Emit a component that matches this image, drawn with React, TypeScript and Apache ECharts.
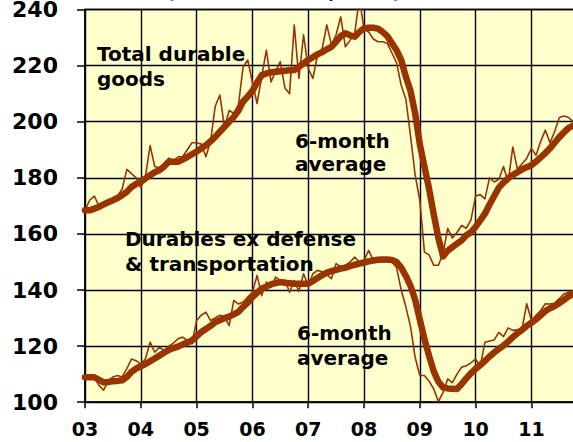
import React, { useEffect, useRef } from "react";
import * as echarts from "echarts";

// Monthly data, Jan 2003 .. Oct 2011 (index 0 = Jan 2003)
const yearLabels = ["03", "04", "05", "06", "07", "08", "09", "10", "11"];

const totalDurable = [
  168.5, 172, 173.5, 170, 170.5, 171.5, 172.5, 173.5, 176, 183, 181.5, 180,
  176.5, 180.5, 191.5, 184, 183.5, 184, 187, 186, 187.5, 187.5, 190, 192.5,
  192.5, 192, 187.5, 193, 205.5, 209.5, 198, 204, 203, 206, 219.5, 222,
  214, 206.5, 216, 225.5, 214.2, 218, 221.4, 212, 210, 234.5, 215.4, 231,
  219, 215.4, 223.7, 226, 234.5, 227.3, 231, 237.4, 226.7, 229, 231.5, 244,
  233, 232, 229.5, 228.5, 228.5, 228, 224.5, 221, 213, 208, 195, 181,
  172, 153.5, 152.5, 148.8, 148.8, 153, 162, 158.5, 160.5, 163, 162, 165,
  173.5, 174, 172.5, 180, 178.5, 179.5, 184, 178.5, 191, 183, 185, 187,
  190.5, 188, 193, 197, 192.5, 196.5, 201.5, 202, 201.5, 200,
];

const totalDurable6m = [
  168.4, 168.4, 169, 169.6, 170.5, 171.3, 172, 172.8, 173.8, 175, 176.7, 177.8,
  178.5, 179.8, 180.9, 182, 182.7, 184, 185.7, 185.7, 185.7, 186.5, 187.4, 188.4,
  189.3, 190.5, 191.6, 193, 194.6, 196.4, 198.2, 200, 201.7, 204, 207.2, 209,
  211, 214, 216.6, 217.2, 217.6, 217.8, 218, 218.2, 218.3, 218.4, 219.5, 220.8,
  222, 223, 224, 224.8, 225.8, 226.7, 228.5, 230.5, 231.5, 230.8, 230.3, 232,
  233.3, 233.5, 233.5, 233.2, 232, 230.5, 228, 225.5, 222, 216, 211, 203,
  192, 184, 176, 167, 158.5, 152, 154, 155.3, 156.5, 157.7, 159.5, 160.6,
  162.5, 164.8, 167.2, 170.5, 173.5, 176.5, 178.3, 179.8, 181, 182, 183, 183.8,
  184.5, 185.8, 187.3, 188.8, 190.5, 192.5, 194.5, 196.2, 197.8, 198.6,
];

const exDefTrans = [
  108.9, 109, 108.9, 106, 104.3, 107.5, 109, 109.5, 109, 112, 115.4, 114.8,
  113.6, 115.5, 121.4, 117.8, 119.6, 118.4, 120, 121, 122.6, 123.2, 122, 120.8,
  129.1, 131, 132.1, 129.1, 130, 131, 130.5, 127.3, 136.3, 135, 135.7, 137.5,
  139.2, 145.2, 138, 142.8, 141, 144.6, 143.4, 143.5, 139.2, 143.4, 139.5, 145.8,
  141.6, 145.8, 147, 146.5, 145.5, 144, 149.4, 148.3, 148.8, 150, 151.7, 150,
  150.5, 154.1, 150.6, 150.3, 150, 150.2, 150, 148, 140, 134, 127, 116,
  109.5, 109.5, 107.5, 104.7, 100.2, 103.5, 108.3, 107, 110, 112.5, 113, 114,
  115.4, 112.7, 121.4, 121.8, 122.2, 124.9, 123.4, 126.5, 125.6, 125.8, 126.3, 135.1,
  129.1, 131, 132.7, 135.1, 135, 135.3, 136.9, 138.6, 139.2, 139.8,
];

const exDefTrans6m = [
  108.9, 108.9, 108.9, 108, 107.1, 107.2, 107.5, 107.6, 107.8, 109, 110.8, 112,
  112.8, 113.6, 114.6, 115.6, 116.6, 117.6, 118.6, 119.3, 119.8, 120.6, 121.3, 122,
  123.5, 125, 126.1, 127.2, 128.5, 129.2, 130, 130.5, 131.3, 132.2, 134, 135.5,
  137.5, 139, 140.5, 141.2, 142, 142.5, 142.8, 142.6, 142.4, 142.2, 142.2, 142.2,
  142.2, 143.2, 144.3, 145.3, 146.2, 146.7, 147.2, 147.6, 148, 148.5, 149, 149.4,
  149.8, 150.2, 150.5, 150.8, 150.9, 150.9, 150.7, 150, 148, 145, 141.5, 136.5,
  129.5, 122.5, 116.5, 111, 107.3, 105.3, 104.9, 104.8, 104.7, 106.5, 108.5, 110.3,
  111.9, 113.2, 114.7, 116.3, 117.7, 119, 120.2, 121.6, 123.2, 124.6, 125.8, 127.2,
  128.3, 129.5, 131, 132.5, 133.5, 134.3, 135.3, 136.5, 137.7, 138.6,
];

const FONT = '"DejaVu Sans", "Liberation Sans", sans-serif';
const LINE_COLOR = "#993300";

const toPoints = (arr: number[]) => arr.map((v, i) => [i, v]);

export default function App() {
  const ref = useRef<HTMLDivElement>(null);

  useEffect(() => {
    if (!ref.current) return;
    const chart = echarts.init(ref.current, undefined, { renderer: "svg" });
    const lineSeries = (name: string, data: number[], width: number) => ({
      name,
      type: "line",
      data: toPoints(data),
      showSymbol: false,
      symbol: "none",
      smooth: false,
      lineStyle: { color: LINE_COLOR, width, cap: "round", join: "round" },
      z: width > 3 ? 3 : 2,
    });
    chart.setOption({
      animation: false,
      backgroundColor: "#ffffff",
      grid: {
        left: 85,
        top: 9.5,
        right: -14.2,
        bottom: 39.8,
        containLabel: false,
        outerBoundsMode: "none",
        show: true,
        backgroundColor: "#FFFFCC",
        borderColor: "#000000",
        borderWidth: 1.4,
      },
      xAxis: {
        type: "value",
        min: 0,
        max: 108,
        interval: 12,
        axisLine: { show: true, lineStyle: { color: "#000", width: 1.5 } },
        axisTick: { show: true, length: 6, lineStyle: { color: "#000", width: 1.5 } },
        splitLine: { show: true, lineStyle: { color: "#000", width: 1.4 } },
        axisLabel: {
          formatter: (v: number) => yearLabels[Math.round(v / 12)] ?? "",
          color: "#000",
          fontFamily: FONT,
          fontWeight: "bold",
          fontSize: 19,
          margin: 17,
        },
      },
      yAxis: {
        type: "value",
        min: 100,
        max: 240,
        interval: 20,
        axisLine: { show: true, lineStyle: { color: "#000", width: 1.5 } },
        axisTick: { show: true, length: 8, lineStyle: { color: "#000", width: 1.5 } },
        splitLine: { show: true, lineStyle: { color: "#000", width: 1.4 } },
        axisLabel: {
          color: "#000",
          fontFamily: FONT,
          fontWeight: "bold",
          fontSize: 22,
          lineHeight: 18,
          margin: 27,
        },
      },
      series: [
        lineSeries("Total durable goods", totalDurable, 1.6),
        lineSeries("Total durable goods 6-month average", totalDurable6m, 6.5),
        lineSeries("Durables ex defense & transportation", exDefTrans, 1.6),
        lineSeries("Durables ex defense & transportation 6-month average", exDefTrans6m, 6.5),
      ],
      graphic: [
        {
          type: "text",
          left: 166,
          top: -19,
          style: { text: "(billion dollars, saar)", font: `bold 20px ${FONT}`, fill: "#000" },
        },
        {
          type: "text",
          left: 97,
          top: 41,
          z: 10,
          style: { text: "Total durable\ngoods", font: `bold 20px ${FONT}`, fill: "#000", lineHeight: 25 },
        },
        {
          type: "text",
          left: 295,
          top: 129,
          z: 10,
          style: { text: "6-month\naverage", font: `bold 20px ${FONT}`, fill: "#000", lineHeight: 23 },
        },
        {
          type: "text",
          left: 125,
          top: 226,
          z: 10,
          style: {
            text: "Durables ex defense\n& transportation",
            font: `bold 20px ${FONT}`,
            fill: "#000",
            lineHeight: 25,
          },
        },
        {
          type: "text",
          left: 297,
          top: 320,
          z: 10,
          style: { text: "6-month\naverage", font: `bold 20px ${FONT}`, fill: "#000", lineHeight: 25 },
        },
      ],
    });
    return () => chart.dispose();
  }, []);

  return (
    <div
      ref={ref}
      style={{ position: "fixed", left: 0, top: 0, width: 573, height: 442, background: "#fff" }}
    />
  );
}
